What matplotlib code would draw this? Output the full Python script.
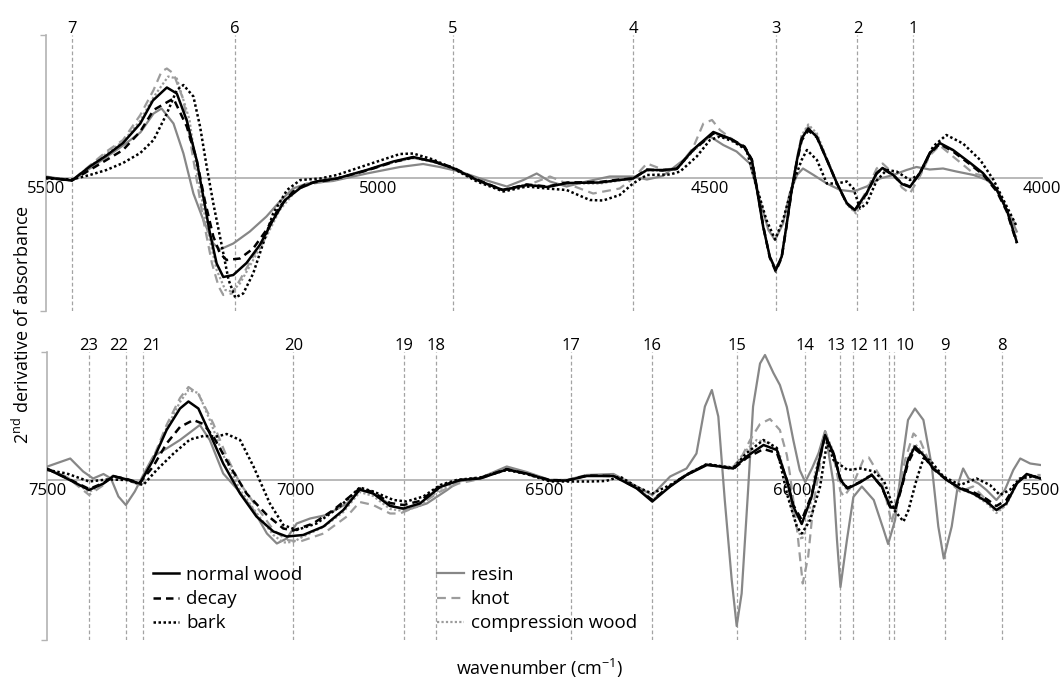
import matplotlib
matplotlib.use('Agg')
from matplotlib import pyplot as plt
from matplotlib import transforms

plt.rcParams['font.family'] = 'Open Sans'
plt.rcParams['mathtext.fontset'] = 'custom'
plt.rcParams['mathtext.rm'] = 'Open Sans'
plt.rcParams['mathtext.it'] = 'Open Sans:italic'

# ---- top panel (5500 - 4000 cm-1) ----
top_normal_x = [5500, 5461, 5434, 5409, 5384, 5358, 5339, 5318, 5303, 5288, 5273, 5264, 5253, 5243, 5233, 5218,
                5198, 5178, 5158, 5140, 5117, 5094, 5062, 5017, 4977, 4947, 4917, 4887, 4851, 4812, 4776, 4745,
                4715, 4666, 4636, 4616, 4595, 4571, 4550, 4526, 4495, 4470, 4448, 4437, 4430, 4420, 4410, 4401,
                4392, 4385, 4377, 4369, 4362, 4352, 4339, 4324, 4309, 4294, 4282, 4264, 4249, 4240, 4224, 4211,
                4199, 4184, 4169, 4154, 4134, 4108, 4089, 4068, 4053, 4038]
top_normal_y = [0.01, -0.02, 0.12, 0.23, 0.355, 0.55, 0.78, 0.91, 0.85, 0.58, 0.18, -0.15, -0.55, -0.85, -0.985, -0.965,
                -0.845, -0.665, -0.415, -0.215, -0.095, -0.03, 0.0, 0.085, 0.17, 0.215, 0.17, 0.105, -0.015, -0.115, -0.065, -0.085,
                -0.045, -0.04, -0.015, 0.0, 0.085, 0.085, 0.095, 0.285, 0.465, 0.40, 0.31, 0.185, -0.08, -0.48, -0.78, -0.915,
                -0.78, -0.48, -0.115, 0.185, 0.40, 0.50, 0.415, 0.185, -0.045, -0.245, -0.315, -0.145, 0.055, 0.105, 0.035, -0.055,
                -0.085, 0.055, 0.255, 0.355, 0.285, 0.155, 0.055, -0.115, -0.315, -0.635]

top_decay_x = [5500, 5461, 5434, 5409, 5384, 5358, 5338, 5308, 5288, 5273, 5261, 5248, 5238, 5228, 5208, 5188,
               5168, 5148, 5128, 5107, 5068, 5017, 4977, 4947, 4917, 4887, 4851, 4812, 4776, 4745, 4715, 4666,
               4636, 4616, 4595, 4571, 4550, 4526, 4495, 4470, 4448, 4437, 4430, 4420, 4410, 4401, 4392, 4385,
               4377, 4369, 4362, 4352, 4339, 4324, 4309, 4294, 4282, 4264, 4249, 4240, 4224, 4211, 4199, 4184,
               4169, 4154, 4134, 4108, 4089, 4068, 4053, 4038]
top_decay_y = [0.01, -0.02, 0.085, 0.185, 0.285, 0.47, 0.685, 0.80, 0.52, 0.185, -0.215, -0.58, -0.75, -0.815, -0.80, -0.70,
               -0.515, -0.28, -0.13, -0.05, -0.01, 0.08, 0.165, 0.21, 0.175, 0.11, -0.01, -0.115, -0.06, -0.08, -0.04, -0.035,
               -0.01, 0.0, 0.09, 0.08, 0.10, 0.28, 0.45, 0.40, 0.32, 0.19, -0.07, -0.47, -0.79, -0.93, -0.79, -0.49,
               -0.12, 0.17, 0.38, 0.48, 0.41, 0.19, -0.05, -0.25, -0.32, -0.15, 0.05, 0.10, 0.03, -0.05, -0.08, 0.05,
               0.25, 0.345, 0.27, 0.14, 0.04, -0.13, -0.33, -0.645]

top_bark_x = [5500, 5461, 5434, 5409, 5384, 5358, 5338, 5318, 5303, 5293, 5278, 5268, 5258, 5248, 5235, 5225,
              5215, 5203, 5188, 5173, 5158, 5137, 5117, 5087, 5062, 5017, 4967, 4947, 4917, 4887, 4851, 4811,
              4776, 4746, 4716, 4681, 4661, 4636, 4616, 4595, 4560, 4545, 4520, 4500, 4485, 4465, 4445, 4430,
              4415, 4402, 4390, 4375, 4362, 4354, 4339, 4324, 4309, 4294, 4284, 4274, 4264, 4249, 4234, 4219,
              4199, 4184, 4164, 4144, 4119, 4093, 4073, 4058, 4038]
top_bark_y = [0.0, -0.01, 0.035, 0.085, 0.155, 0.255, 0.385, 0.65, 0.885, 0.935, 0.82, 0.52, 0.12, -0.25, -0.68, -1.015,
              -1.19, -1.15, -0.95, -0.65, -0.35, -0.115, -0.015, 0.0, 0.035, 0.135, 0.245, 0.25, 0.19, 0.10, -0.03, -0.13,
              -0.08, -0.10, -0.115, -0.215, -0.22, -0.165, -0.05, 0.035, 0.04, 0.07, 0.22, 0.385, 0.42, 0.37, 0.285, -0.08,
              -0.415, -0.61, -0.415, -0.05, 0.185, 0.285, 0.185, -0.05, -0.05, -0.03, -0.10, -0.30, -0.25, -0.02, 0.085, 0.07,
              -0.015, 0.045, 0.32, 0.435, 0.35, 0.185, -0.015, -0.215, -0.48]

top_resin_x = [5500, 5461, 5434, 5409, 5384, 5358, 5338, 5326, 5308, 5293, 5278, 5263, 5248, 5238, 5218, 5193,
               5168, 5148, 5128, 5107, 5068, 5017, 4967, 4932, 4907, 4877, 4846, 4806, 4781, 4761, 4741, 4716,
               4686, 4651, 4616, 4595, 4571, 4540, 4515, 4500, 4480, 4460, 4440, 4425, 4412, 4402, 4390, 4380,
               4369, 4360, 4344, 4324, 4304, 4284, 4264, 4244, 4224, 4204, 4189, 4169, 4149, 4129, 4103, 4083,
               4068, 4053, 4038]
top_resin_y = [0.02, -0.02, 0.10, 0.215, 0.33, 0.46, 0.65, 0.70, 0.55, 0.25, -0.15, -0.415, -0.65, -0.71, -0.65, -0.53,
               -0.38, -0.23, -0.10, -0.05, -0.025, 0.05, 0.115, 0.145, 0.115, 0.07, 0.0, -0.08, -0.015, 0.05, -0.03, -0.08,
               -0.03, 0.02, 0.02, -0.01, 0.025, 0.185, 0.35, 0.42, 0.335, 0.27, 0.15, -0.215, -0.515, -0.615, -0.45, -0.15,
               0.035, 0.10, 0.035, -0.05, -0.115, -0.13, -0.08, 0.0, 0.035, 0.085, 0.115, 0.09, 0.10, 0.07, 0.035, -0.015,
               -0.10, -0.315, -0.53]

top_knot_x = [5500, 5461, 5434, 5409, 5384, 5358, 5338, 5326, 5318, 5308, 5293, 5278, 5263, 5250, 5240, 5233,
              5220, 5208, 5188, 5168, 5148, 5122, 5097, 5062, 5017, 4977, 4947, 4917, 4887, 4851, 4812, 4776,
              4741, 4716, 4676, 4636, 4616, 4595, 4571, 4550, 4526, 4510, 4497, 4485, 4470, 4448, 4437, 4430,
              4420, 4410, 4401, 4392, 4385, 4377, 4369, 4362, 4352, 4339, 4324, 4309, 4294, 4282, 4264, 4249,
              4240, 4224, 4211, 4199, 4184, 4169, 4154, 4134, 4103, 4083, 4068, 4053, 4038]
top_knot_y = [0.01, -0.02, 0.13, 0.27, 0.385, 0.635, 0.885, 1.07, 1.10, 1.05, 0.785, 0.185, -0.415, -0.85, -1.08, -1.165,
              -1.15, -1.015, -0.78, -0.55, -0.28, -0.10, -0.05, -0.01, 0.08, 0.165, 0.205, 0.17, 0.10, -0.02, -0.12, -0.07,
              0.02, -0.05, -0.15, -0.10, 0.0, 0.15, 0.09, 0.10, 0.30, 0.55, 0.585, 0.485, 0.41, 0.31, 0.18, -0.08,
              -0.48, -0.79, -0.92, -0.78, -0.48, -0.11, 0.20, 0.42, 0.52, 0.43, 0.19, -0.05, -0.25, -0.33, -0.12, 0.10,
              0.15, 0.05, -0.09, -0.15, 0.02, 0.23, 0.33, 0.22, 0.05, 0.02, -0.11, -0.315, -0.48]

top_comp_x = [5500, 5461, 5434, 5409, 5384, 5358, 5338, 5316, 5303, 5284, 5273, 5258, 5243, 5230, 5220, 5208,
              5188, 5168, 5148, 5122, 5097, 5062, 5017, 4977, 4947, 4917, 4887, 4851, 4812, 4776, 4745, 4715,
              4666, 4636, 4616, 4595, 4571, 4550, 4526, 4495, 4470, 4448, 4437, 4430, 4420, 4410, 4401, 4392,
              4385, 4377, 4369, 4362, 4352, 4339, 4324, 4309, 4294, 4280, 4264, 4249, 4240, 4224, 4211, 4199,
              4184, 4169, 4154, 4134, 4108, 4089, 4068, 4053, 4038]
top_comp_y = [0.01, -0.02, 0.12, 0.25, 0.37, 0.58, 0.815, 1.02, 1.00, 0.59, 0.085, -0.48, -0.915, -1.115, -1.13, -1.05,
              -0.815, -0.58, -0.315, -0.11, -0.04, 0.0, 0.08, 0.16, 0.205, 0.165, 0.10, -0.02, -0.115, -0.06, -0.08, -0.05,
              -0.05, -0.02, 0.0, 0.08, 0.08, 0.09, 0.27, 0.45, 0.40, 0.32, 0.19, -0.07, -0.47, -0.78, -0.91, -0.78,
              -0.47, -0.10, 0.20, 0.43, 0.54, 0.45, 0.20, -0.04, -0.26, -0.35, -0.16, 0.06, 0.11, 0.04, -0.05, -0.09,
              0.05, 0.25, 0.35, 0.28, 0.15, 0.04, -0.12, -0.32, -0.60]

# ---- bottom panel (7500 - 5500 cm-1) ----
bot_normal_x = [7500, 7461, 7416, 7387, 7367, 7340, 7314, 7287, 7260, 7233, 7216, 7196, 7173, 7146, 7112, 7079,
                7045, 7018, 6985, 6944, 6904, 6871, 6844, 6810, 6783, 6750, 6709, 6669, 6629, 6575, 6535, 6488,
                6454, 6414, 6360, 6313, 6282, 6246, 6213, 6172, 6146, 6119, 6092, 6058, 6031, 6011, 5998, 5981,
                5961, 5944, 5934, 5917, 5903, 5889, 5864, 5840, 5820, 5803, 5793, 5780, 5767, 5753, 5736, 5716,
                5689, 5662, 5636, 5609, 5589, 5569, 5548, 5528, 5500]
bot_normal_y = [0.11, 0.015, -0.10, -0.035, 0.04, 0.005, -0.035, 0.20, 0.50, 0.715, 0.785, 0.715, 0.465, 0.165, -0.135, -0.365,
                -0.515, -0.565, -0.55, -0.465, -0.30, -0.095, -0.135, -0.26, -0.285, -0.235, -0.07, 0.0, 0.015, 0.105, 0.065, -0.005,
                -0.005, 0.04, 0.04, -0.085, -0.215, -0.065, 0.05, 0.15, 0.135, 0.115, 0.235, 0.35, 0.30, 0.0, -0.265, -0.44,
                -0.165, 0.235, 0.45, 0.265, 0.0, -0.085, -0.025, 0.05, -0.065, -0.265, -0.285, -0.065, 0.20, 0.335, 0.25, 0.115,
                0.0, -0.085, -0.135, -0.215, -0.30, -0.235, -0.035, 0.06, 0.015]

bot_decay_x = [7500, 7461, 7416, 7387, 7367, 7340, 7314, 7287, 7260, 7233, 7206, 7186, 7166, 7132, 7099, 7058,
               7025, 7005, 6965, 6924, 6871, 6844, 6810, 6783, 6750, 6709, 6669, 6629, 6575, 6535, 6488, 6454,
               6414, 6360, 6313, 6282, 6246, 6213, 6172, 6146, 6119, 6092, 6058, 6031, 6011, 5998, 5981, 5961,
               5944, 5934, 5917, 5903, 5889, 5864, 5840, 5820, 5803, 5793, 5780, 5767, 5753, 5736, 5716, 5689,
               5662, 5636, 5609, 5589, 5569, 5548, 5528, 5500]
bot_decay_y = [0.11, 0.02, -0.09, -0.03, 0.035, 0.01, -0.03, 0.135, 0.365, 0.53, 0.60, 0.56, 0.435, 0.135, -0.135, -0.35,
               -0.485, -0.505, -0.435, -0.30, -0.085, -0.12, -0.23, -0.25, -0.21, -0.06, 0.0, 0.02, 0.11, 0.06, 0.0, -0.005,
               0.045, 0.04, -0.08, -0.20, -0.06, 0.055, 0.155, 0.135, 0.11, 0.22, 0.31, 0.27, 0.0, -0.25, -0.40, -0.15,
               0.24, 0.44, 0.26, 0.01, -0.08, -0.02, 0.05, -0.07, -0.27, -0.30, -0.08, 0.17, 0.31, 0.24, 0.11, 0.0,
               -0.08, -0.12, -0.19, -0.26, -0.20, -0.03, 0.05, 0.02]

bot_bark_x = [7500, 7461, 7416, 7380, 7340, 7307, 7280, 7246, 7213, 7186, 7159, 7139, 7112, 7085, 7052, 7025,
              6998, 6958, 6911, 6871, 6844, 6803, 6777, 6743, 6709, 6676, 6629, 6575, 6535, 6488, 6407, 6375,
              6347, 6313, 6282, 6246, 6213, 6172, 6146, 6119, 6092, 6058, 6031, 6011, 5991, 5981, 5964, 5944,
              5930, 5917, 5889, 5862, 5835, 5815, 5795, 5776, 5766, 5750, 5736, 5723, 5696, 5662, 5629, 5602,
              5582, 5562, 5542, 5515, 5500]
bot_bark_y = [0.10, 0.065, -0.015, 0.005, 0.0, -0.05, 0.10, 0.265, 0.405, 0.44, 0.435, 0.46, 0.40, 0.135, -0.235, -0.45,
              -0.50, -0.435, -0.265, -0.075, -0.115, -0.20, -0.215, -0.165, -0.05, 0.0, 0.025, 0.10, 0.06, -0.015, -0.015, -0.01,
              0.035, -0.07, -0.135, -0.05, 0.05, 0.16, 0.14, 0.12, 0.27, 0.40, 0.32, -0.135, -0.465, -0.535, -0.40, -0.065,
              0.38, 0.20, 0.10, 0.115, 0.085, -0.015, -0.30, -0.415, -0.30, 0.0, 0.215, 0.20, 0.035, -0.05, 0.015, -0.05,
              -0.15, -0.10, 0.015, 0.035, 0.015]

bot_resin_x = [7500, 7454, 7428, 7408, 7387, 7372, 7357, 7342, 7324, 7307, 7287, 7260, 7233, 7193, 7173, 7146,
               7119, 7085, 7058, 7038, 7018, 6998, 6971, 6938, 6897, 6871, 6844, 6803, 6777, 6736, 6695, 6672,
               6629, 6575, 6535, 6488, 6454, 6414, 6360, 6313, 6282, 6246, 6213, 6193, 6176, 6162, 6149, 6136,
               6122, 6112, 6102, 6089, 6079, 6065, 6055, 6038, 6025, 6011, 5998, 5985, 5974, 5960, 5947, 5934,
               5917, 5910, 5903, 5890, 5877, 5860, 5836, 5816, 5807, 5793, 5780, 5767, 5753, 5736, 5719, 5706,
               5695, 5679, 5666, 5656, 5645, 5625, 5609, 5589, 5572, 5555, 5541, 5521, 5500]
bot_resin_y = [0.135, 0.215, 0.085, 0.015, 0.06, 0.015, -0.165, -0.25, -0.115, 0.05, 0.235, 0.315, 0.40, 0.55, 0.40, 0.065,
               -0.085, -0.30, -0.535, -0.635, -0.585, -0.435, -0.385, -0.35, -0.235, -0.10, -0.135, -0.265, -0.30, -0.235, -0.10, -0.015,
               0.02, 0.135, 0.08, 0.0, 0.0, 0.05, 0.06, -0.065, -0.15, 0.035, 0.115, 0.265, 0.735, 0.90, 0.635, -0.20,
               -1.0, -1.46, -1.135, -0.10, 0.735, 1.165, 1.25, 1.07, 0.95, 0.73, 0.40, 0.10, -0.02, 0.12, 0.27, 0.49,
               -0.035, -0.60, -1.07, -0.60, -0.17, -0.065, -0.20, -0.50, -0.64, -0.40, 0.135, 0.60, 0.715, 0.60, 0.135, -0.465,
               -0.785, -0.465, -0.035, 0.115, 0.015, -0.035, -0.10, -0.20, -0.10, 0.10, 0.215, 0.165, 0.15]

bot_knot_x = [7500, 7461, 7416, 7387, 7367, 7340, 7314, 7287, 7260, 7233, 7216, 7196, 7166, 7139, 7112, 7079,
              7045, 7018, 6991, 6944, 6897, 6871, 6844, 6810, 6790, 6756, 6709, 6672, 6629, 6575, 6535, 6488,
              6454, 6414, 6360, 6313, 6282, 6246, 6213, 6172, 6146, 6119, 6100, 6085, 6065, 6045, 6025, 6011,
              6005, 5991, 5979, 5968, 5958, 5944, 5934, 5914, 5903, 5896, 5877, 5857, 5846, 5823, 5807, 5800,
              5790, 5773, 5756, 5743, 5723, 5689, 5662, 5636, 5609, 5589, 5569, 5548, 5528, 5500]
bot_knot_y = [0.115, 0.03, -0.15, -0.05, 0.05, 0.0, -0.05, 0.22, 0.55, 0.82, 0.93, 0.86, 0.565, 0.235, -0.035, -0.265,
              -0.50, -0.60, -0.615, -0.535, -0.365, -0.22, -0.25, -0.335, -0.335, -0.265, -0.115, -0.035, 0.01, 0.11, 0.07, 0.0,
              0.0, 0.04, 0.05, -0.08, -0.20, -0.06, 0.06, 0.16, 0.14, 0.13, 0.25, 0.40, 0.56, 0.61, 0.50, 0.25,
              0.065, -0.465, -1.035, -0.765, -0.265, 0.165, 0.50, 0.165, -0.115, -0.165, -0.035, 0.20, 0.225, 0.035, -0.265, -0.435,
              -0.20, 0.20, 0.465, 0.40, 0.165, 0.0, -0.115, -0.065, -0.20, -0.315, -0.235, -0.035, 0.05, 0.05]

bot_comp_x = [7500, 7461, 7416, 7387, 7367, 7340, 7314, 7287, 7260, 7233, 7216, 7196, 7173, 7146, 7112, 7079,
              7045, 7025, 7005, 6985, 6944, 6904, 6871, 6844, 6810, 6783, 6750, 6709, 6669, 6629, 6575, 6535,
              6488, 6454, 6414, 6360, 6313, 6282, 6246, 6213, 6172, 6146, 6119, 6092, 6072, 6045, 6025, 6011,
              5998, 5981, 5968, 5955, 5934, 5917, 5903, 5889, 5864, 5840, 5820, 5803, 5793, 5780, 5767, 5753,
              5736, 5716, 5689, 5662, 5636, 5609, 5589, 5569, 5548, 5528, 5500]
bot_comp_y = [0.11, 0.03, -0.12, -0.04, 0.04, 0.0, -0.04, 0.21, 0.52, 0.78, 0.90, 0.87, 0.60, 0.25, -0.10, -0.33,
              -0.55, -0.625, -0.62, -0.565, -0.47, -0.32, -0.12, -0.16, -0.29, -0.31, -0.26, -0.09, -0.01, 0.015, 0.11, 0.07,
              0.0, 0.0, 0.045, 0.05, -0.08, -0.20, -0.06, 0.05, 0.16, 0.14, 0.13, 0.30, 0.40, 0.37, 0.25, -0.05,
              -0.35, -0.60, -0.40, 0.05, 0.48, 0.28, -0.02, -0.10, -0.02, 0.06, -0.06, -0.26, -0.30, -0.06, 0.22, 0.36,
              0.27, 0.12, 0.0, -0.09, -0.14, -0.23, -0.33, -0.25, -0.04, 0.05, 0.03]

# assigned bands
top_bands = [4194, 4278, 4401, 4616, 4887, 5216, 5461]
top_band_labels = ['1', '2', '3', '4', '5', '6', '7']
bot_bands = [5578, 5692, 5795, 5805, 5877, 5903, 5974, 6112, 6282, 6446, 6717, 6781, 7005, 7307, 7342, 7416]
bot_band_labels = ['8', '9', '10', '11', '12', '13', '14', '15', '16', '17', '18', '19', '20', '21', '22', '23']
# nudges (pixels) so crowded numbers do not overlap
label_shift = {'10': 11, '11': -8, '12': 6, '13': -5, '21': 8, '22': -7}

series = ['normal wood', 'decay', 'bark', 'resin', 'knot', 'compression wood']
styles = {
    'normal wood': dict(color='black', lw=1.8, ls='-'),
    'decay': dict(color='black', lw=1.8, ls=(0, (3, 2))),
    'bark': dict(color='black', lw=1.8, ls=(0, (1, 1))),
    'resin': dict(color='#878787', lw=1.6, ls='-'),
    'knot': dict(color='#9c9c9c', lw=1.6, ls=(0, (4, 2.5))),
    'compression wood': dict(color='#9c9c9c', lw=1.6, ls=(0, (1, 1))),
}
top_data = {'normal wood': (top_normal_x, top_normal_y), 'decay': (top_decay_x, top_decay_y),
            'bark': (top_bark_x, top_bark_y), 'resin': (top_resin_x, top_resin_y),
            'knot': (top_knot_x, top_knot_y), 'compression wood': (top_comp_x, top_comp_y)}
bot_data = {'normal wood': (bot_normal_x, bot_normal_y), 'decay': (bot_decay_x, bot_decay_y),
            'bark': (bot_bark_x, bot_bark_y), 'resin': (bot_resin_x, bot_resin_y),
            'knot': (bot_knot_x, bot_knot_y), 'compression wood': (bot_comp_x, bot_comp_y)}

W, H = 1064, 680
fig = plt.figure(figsize=(W / 100, H / 100), dpi=100)
ax_top = fig.add_axes([46 / W, 1 - 311 / H, 996 / W, 276 / H])
ax_bot = fig.add_axes([47.4 / W, 1 - 640 / H, 993.2 / W, 288 / H])

panels = [(ax_top, top_data, (5500, 4000), (-1.325, 1.435), [5500, 5000, 4500, 4000], top_bands, top_band_labels),
          (ax_bot, bot_data, (7500, 5500), (-1.60, 1.28), [7500, 7000, 6500, 6000, 5500], bot_bands, bot_band_labels)]

handles = []
for ax, data, xl, yl, xt, bands, blabels in panels:
    # gray curves underneath, black ones on top
    order = ['resin', 'knot', 'compression wood', 'normal wood', 'decay', 'bark']
    hs = {}
    for name in order:
        x, y = data[name]
        hs[name] = ax.plot(x, y, label=name, zorder=3, **styles[name])[0]
    handles = [hs[n] for n in series]

    for b, lab in zip(bands, blabels):
        ax.axvline(b, color='#a3a3a3', lw=0.9, ls=(0, (3, 2)), zorder=1)
        tr = transforms.offset_copy(ax.get_xaxis_transform(), fig=fig,
                                    x=label_shift.get(lab, 0), y=2, units='dots')
        ax.text(b, 1, lab, transform=tr, ha='center', va='baseline', fontsize=12)

    ax.set_xlim(*xl)
    ax.set_ylim(*yl)
    ax.set_xticks(xt)
    ax.set_xticklabels([str(v) for v in xt])
    ax.set_yticks(list(yl))
    ax.set_yticklabels(['', ''])
    ax.spines['top'].set_visible(False)
    ax.spines['right'].set_visible(False)
    ax.spines['bottom'].set_position(('data', 0))
    ax.spines['bottom'].set_color('#b3b3b3')
    ax.spines['bottom'].set_linewidth(1.3)
    ax.spines['left'].set_color('#b3b3b3')
    ax.spines['left'].set_linewidth(1.2)
    ax.tick_params(axis='x', length=0, pad=2, labelsize=12)
    ax.tick_params(axis='y', length=4, width=1, color='#b3b3b3')
    ax.patch.set_visible(False)

fig.legend(handles, series, ncol=2, loc='upper left', bbox_to_anchor=(153 / W, 1 - 566 / H),
           frameon=False, fontsize=13.5, borderpad=0, borderaxespad=0, handlelength=1.4,
           handletextpad=0.37, labelspacing=0.33, columnspacing=7.2)

fig.text(22 / W, 1 - 325 / H, '2$^{\\mathrm{nd}}$ derivative of absorbance', rotation=90,
         ha='center', va='center', fontsize=13)
fig.text(540 / W, 1 - 668 / H, 'wavenumber (cm$^{-1}$)', ha='center', va='center', fontsize=13)

plt.savefig('out.png', dpi=100)
